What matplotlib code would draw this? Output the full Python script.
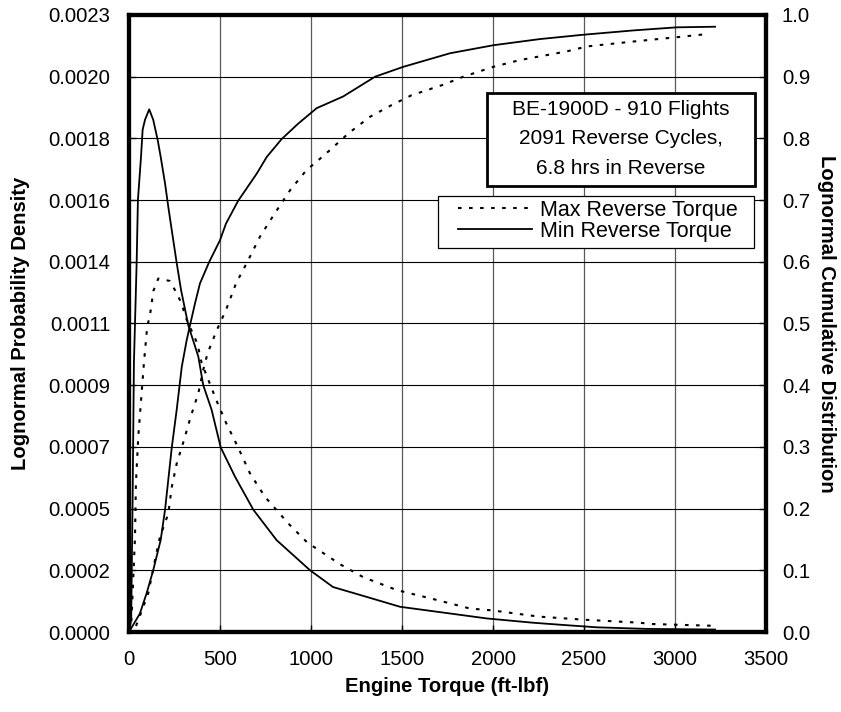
import numpy as np
import matplotlib
matplotlib.use("Agg")
import matplotlib.pyplot as plt
from matplotlib.patches import Rectangle

plt.rcParams['font.family'] = ['Liberation Sans', 'DejaVu Sans']

# lognormal probability density (left axis)
max_pdf_x = [0, 12, 20, 33, 38, 51, 82, 100, 115, 134, 161, 225, 258, 290, 311, 376, 399,
             454, 482, 533, 601, 665, 747, 875, 980, 1165, 1287, 1471, 1690, 1874, 1996,
             2249, 2495, 2808, 2862, 3220]
max_pdf_y = [0, 0.0000225, 0.000142, 0.000347, 0.000542, 0.000713, 0.000981, 0.001114,
             0.001154, 0.001244, 0.001289, 0.001280, 0.001240, 0.001197, 0.001148, 0.001051,
             0.000981, 0.000889, 0.000842, 0.000763, 0.000671, 0.000578, 0.000493, 0.000396,
             0.000326, 0.000245, 0.000200, 0.000153, 0.000117, 0.0000855, 0.0000788,
             0.0000563, 0.000045, 0.0000338, 0.0000293, 0.0000225]

min_pdf_x = [0, 12, 20, 27, 42, 49, 66, 75, 88, 111, 133, 158, 174, 198, 216, 235, 262, 286,
             326, 381, 408, 454, 504, 582, 683, 811, 995, 1121, 1306, 1489, 1764, 1965, 2220,
             2405, 2570, 2845, 3220]
min_pdf_y = [0, 0.000045, 0.000495, 0.000981, 0.001346, 0.001575, 0.001733, 0.001832,
             0.001868, 0.001906, 0.001868, 0.001793, 0.001733, 0.001636, 0.001550, 0.001465,
             0.001346, 0.001247, 0.001118, 0.001004, 0.000900, 0.000810, 0.000673, 0.000567,
             0.000446, 0.000335, 0.000225, 0.000164, 0.000128, 0.000092, 0.0000675,
             0.0000495, 0.0000338, 0.0000248, 0.0000171, 0.0000113, 0.0000090]

# lognormal cumulative distribution (right axis)
max_cdf_x = [0, 25, 51, 106, 143, 170, 216, 235, 262, 302, 339, 381, 408, 432, 482, 533, 588,
             647, 720, 802, 885, 976, 1022, 1104, 1205, 1324, 1443, 1553, 1727, 1837, 2002,
             2148, 2405, 2515, 2771, 3009, 3174]
max_cdf_y = [0, 0.0, 0.019, 0.063, 0.117, 0.154, 0.192, 0.235, 0.273, 0.311, 0.349, 0.387,
             0.425, 0.452, 0.489, 0.522, 0.565, 0.598, 0.641, 0.679, 0.716, 0.749, 0.760,
             0.781, 0.808, 0.835, 0.854, 0.870, 0.887, 0.900, 0.916, 0.927, 0.941, 0.949,
             0.957, 0.964, 0.969]

min_cdf_x = [0, 60, 97, 133, 174, 198, 235, 262, 290, 317, 335, 363, 390, 441, 500, 533, 600,
             702, 757, 839, 930, 1031, 1177, 1352, 1507, 1764, 2002, 2258, 2496, 2771, 3009,
             3220]
min_cdf_y = [0, 0.030, 0.063, 0.100, 0.149, 0.198, 0.299, 0.360, 0.430, 0.473, 0.497, 0.533,
             0.565, 0.600, 0.635, 0.662, 0.699, 0.743, 0.770, 0.799, 0.824, 0.849, 0.868,
             0.900, 0.916, 0.938, 0.951, 0.961, 0.968, 0.975, 0.980, 0.981]

pdf_tick_labels = ['0.0000', '0.0002', '0.0005', '0.0007', '0.0009', '0.0011',
                   '0.0014', '0.0016', '0.0018', '0.0020', '0.0023']
cdf_tick_labels = ['0.0', '0.1', '0.2', '0.3', '0.4', '0.5', '0.6', '0.7', '0.8', '0.9', '1.0']
torque_ticks = [0, 500, 1000, 1500, 2000, 2500, 3000, 3500]

info_text = "BE-1900D - 910 Flights\n2091 Reverse Cycles,\n6.8 hrs in Reverse"

W, H = 841, 712
fig = plt.figure(figsize=(W / 100, H / 100), dpi=100)
ax = fig.add_axes([129 / W, 1 - 632 / H, 637 / W, 617 / H])
ax2 = ax.twinx()


def ax_frac(px, py):
    # pixel position on the canvas -> axes fraction
    return (px - 129) / 637, (632 - py) / 617


dots = (0, (1.7, 3.6))
l_max, = ax.plot(max_pdf_x, max_pdf_y, color='black', lw=1.5, linestyle=dots,
                 label='Max Reverse Torque')
l_min, = ax.plot(min_pdf_x, min_pdf_y, color='black', lw=1.3, label='Min Reverse Torque')
ax2.plot(max_cdf_x, max_cdf_y, color='black', lw=1.5, linestyle=dots)
ax2.plot(min_cdf_x, min_cdf_y, color='black', lw=1.3)

ax.set_xlim(0, 3500)
ax.set_ylim(0, 0.00225)
ax2.set_ylim(0, 1.0)
ax.set_xticks(torque_ticks)
ax.set_yticks(np.linspace(0, 0.00225, len(pdf_tick_labels)))
ax.set_yticklabels(pdf_tick_labels)
ax2.set_yticks(np.linspace(0, 1.0, len(cdf_tick_labels)))
ax2.set_yticklabels(cdf_tick_labels)

ax.grid(axis='y', color='black', lw=0.8)
ax.grid(axis='x', color='#5a5a5a', lw=0.9)
ax.set_axisbelow(True)

for a in (ax, ax2):
    for s in a.spines.values():
        s.set_linewidth(3)
ax.tick_params(axis='both', direction='in', length=5, width=1, labelsize=14.6)
ax.tick_params(axis='y', pad=13.5)
ax.tick_params(axis='x', pad=13)
ax2.tick_params(axis='y', direction='in', length=5, width=1, labelsize=14.6, pad=11.5)

ax.set_xlabel('Engine Torque (ft-lbf)', fontsize=14.6, fontweight='bold', labelpad=6)
ax.set_ylabel('Lognormal Probability Density', fontsize=14.6, fontweight='bold', labelpad=13)
ax2.set_ylabel('Lognormal Cumulative Distribution', fontsize=14.6, fontweight='bold',
               rotation=270, va='bottom', labelpad=5)

# boxed flight summary
x0, y0 = ax_frac(487, 186)
ax2.add_patch(Rectangle((x0, y0), 268 / 637, 93 / 617, transform=ax2.transAxes,
                        facecolor='white', edgecolor='black', lw=2, zorder=5))
ax2.text(*ax_frac(621, 139), info_text, transform=ax2.transAxes,
         ha='center', va='center', fontsize=15, linespacing=1.72, zorder=6)

# legend frame drawn separately so the padding can differ per side
lx, ly = ax_frac(438, 248)
ax2.add_patch(Rectangle((lx, ly), 316 / 637, 52 / 617, transform=ax2.transAxes,
                        facecolor='white', edgecolor='black', lw=0.9, zorder=5))
leg = ax2.legend(handles=[l_max, l_min], loc='center left',
                 bbox_to_anchor=ax_frac(458, 221), fontsize=15.5, frameon=False,
                 handlelength=3.45, handletextpad=0.37, labelspacing=0.0,
                 borderpad=0, borderaxespad=0)
leg.set_zorder(6)

fig.savefig('out.png', dpi=100)
